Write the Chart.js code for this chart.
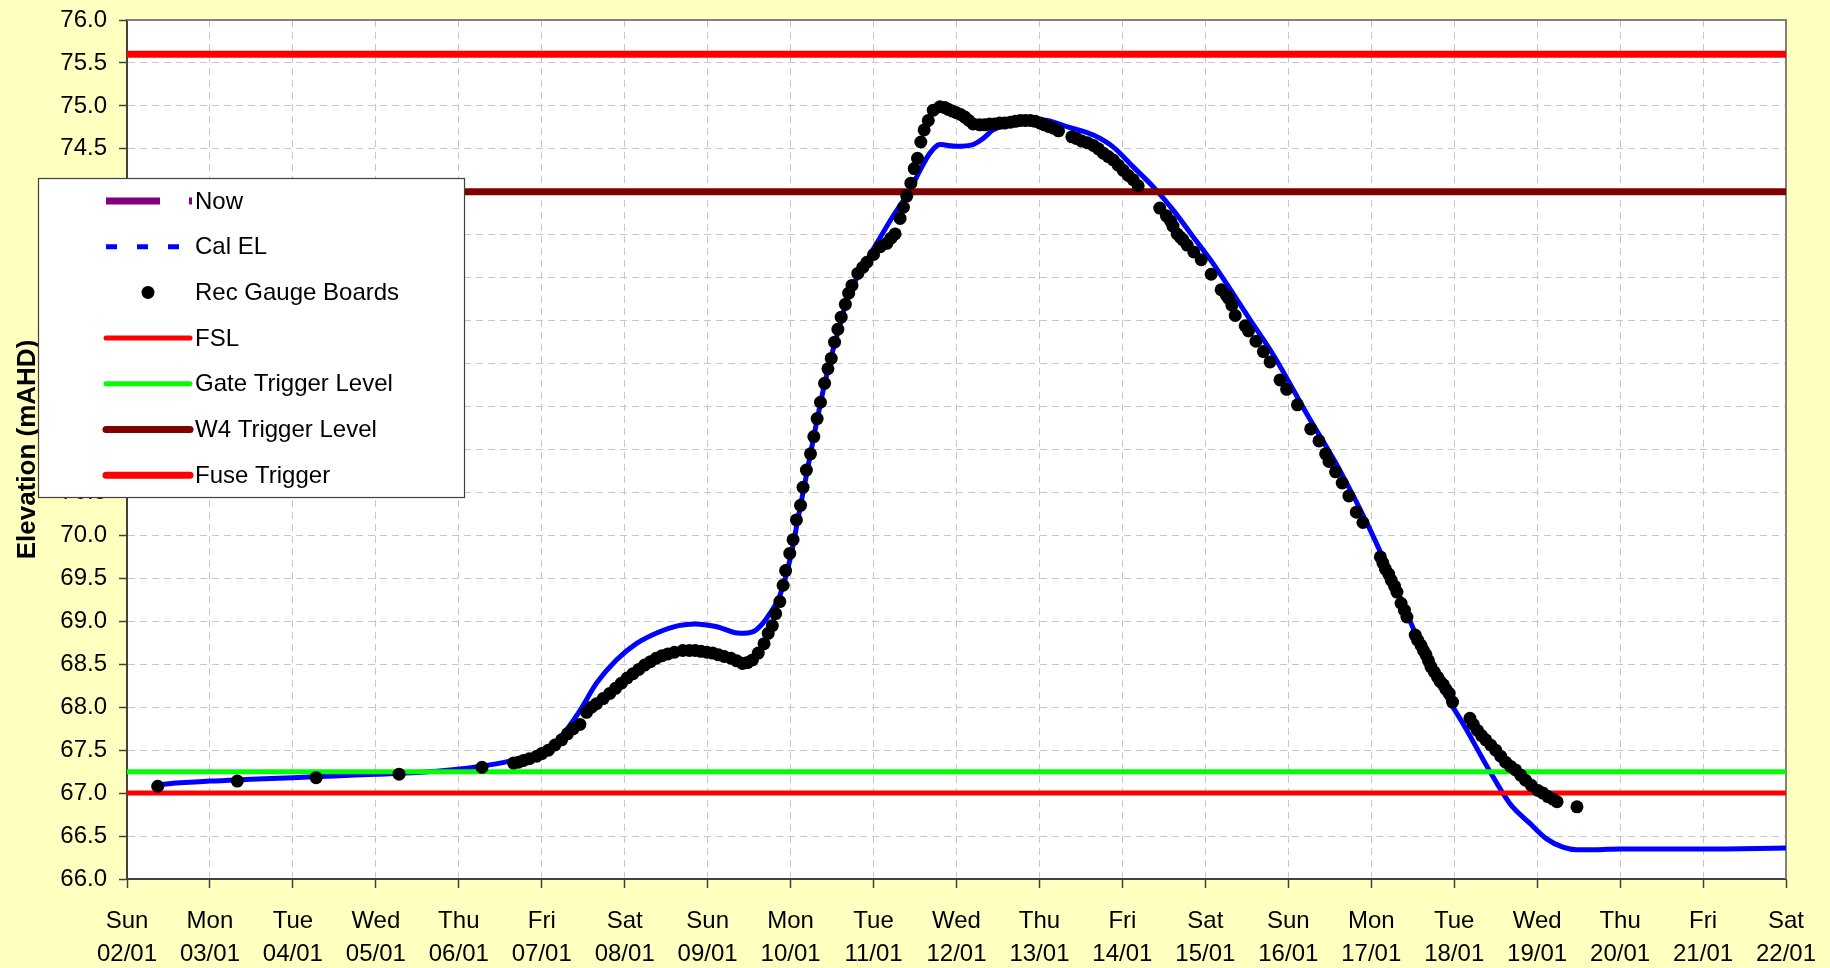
<!DOCTYPE html>
<html lang="en">
<head>
  <meta charset="UTF-8" />
  <title>Elevation (mAHD)</title>
  <script src="https://cdn.jsdelivr.net/npm/chart.js@4.4.1/dist/chart.umd.min.js"></script>
  <style>
    html, body { margin: 0; padding: 0; background: #FFFFC0; }
    canvas { display: block; }
  </style>
</head>
<body>
  <canvas id="elevChart" width="1830" height="968"></canvas>

  <script>
    // x axis: days after Sun 02/01
    const dayNames = ['Sun', 'Mon', 'Tue', 'Wed', 'Thu', 'Fri', 'Sat', 'Sun', 'Mon', 'Tue', 'Wed',
                      'Thu', 'Fri', 'Sat', 'Sun', 'Mon', 'Tue', 'Wed', 'Thu', 'Fri', 'Sat'];
    const dayDates = ['02/01', '03/01', '04/01', '05/01', '06/01', '07/01', '08/01', '09/01', '10/01', '11/01', '12/01',
                      '13/01', '14/01', '15/01', '16/01', '17/01', '18/01', '19/01', '20/01', '21/01', '22/01'];

    // Cal EL (modelled level)
    const calDays = [0.31, 0.5, 1.0, 1.5, 2.0, 2.5, 3.0, 3.5, 3.8, 4.25, 4.6, 5.0, 5.26, 5.46, 5.66, 5.9,
      6.14, 6.4, 6.65, 6.85, 7.1, 7.39, 7.55, 7.65, 7.75, 7.87, 8.0, 8.1, 8.2, 8.3, 8.4, 8.5, 8.6, 8.68,
      8.8, 8.99, 9.23, 9.44, 9.56, 9.68, 9.8, 10.0, 10.2, 10.32, 10.44, 10.61, 10.85, 11.09, 11.33, 11.65,
      11.89, 12.13, 12.37, 12.61, 12.85, 13.09, 13.33, 13.54, 13.82, 14.22, 14.62, 14.97, 15.26, 15.55,
      15.84, 16.13, 16.42, 16.67, 16.91, 17.11, 17.31, 17.48, 17.7, 18.0, 19.0, 20.0];
    const calLevels = [67.09, 67.11, 67.14, 67.16, 67.18, 67.20, 67.22, 67.24, 67.26, 67.31, 67.37, 67.48, 67.69, 67.96, 68.28, 68.55,
      68.74, 68.87, 68.95, 68.97, 68.94, 68.86, 68.88, 68.96, 69.09, 69.30, 69.75, 70.25, 70.75, 71.25, 71.72, 72.12, 72.47, 72.74,
      73.00, 73.32, 73.71, 74.02, 74.25, 74.45, 74.55, 74.53, 74.55, 74.62, 74.72, 74.78, 74.85, 74.83, 74.76, 74.66,
      74.52, 74.29, 74.06, 73.79, 73.48, 73.17, 72.82, 72.51, 72.10, 71.42, 70.76, 70.10, 69.48, 68.82,
      68.24, 67.77, 67.27, 66.88, 66.65, 66.47, 66.37, 66.34, 66.34, 66.35, 66.35, 66.36];

    // Rec Gauge Boards (recorded readings)
    const gaugeDays = [0.37, 1.33, 2.28, 3.28, 4.28,
      4.66, 4.72, 4.78, 4.85, 4.94, 5.0, 5.08, 5.16, 5.24, 5.31, 5.38, 5.46, 5.54, 5.6, 5.66, 5.74, 5.82, 5.89, 5.96,
      6.03, 6.1, 6.17, 6.24, 6.31, 6.38, 6.45, 6.52, 6.6, 6.7, 6.78, 6.85, 6.92, 6.99, 7.06, 7.13, 7.2, 7.28, 7.35,
      7.42, 7.48, 7.54, 7.61, 7.68, 7.73, 7.78, 7.82, 7.87, 7.91, 7.94, 7.99, 8.03, 8.07, 8.12, 8.15, 8.19, 8.24,
      8.28, 8.32, 8.36, 8.41, 8.45, 8.49, 8.53, 8.57, 8.61, 8.66, 8.7, 8.74, 8.81, 8.87, 8.92, 9.0, 9.08, 9.16,
      9.21, 9.26, 9.32, 9.36, 9.4, 9.45, 9.49, 9.53, 9.57, 9.61, 9.66, 9.72, 9.8, 9.86, 9.9, 9.95, 10.0, 10.05,
      10.1, 10.15, 10.2, 10.28, 10.34, 10.4, 10.46, 10.52, 10.58, 10.65, 10.71, 10.77, 10.83, 10.89, 10.95, 11.01,
      11.06, 11.11, 11.17, 11.23,
      11.39, 11.45, 11.51, 11.58, 11.65, 11.71, 11.77, 11.83, 11.89, 11.95, 12.01, 12.07, 12.13, 12.19,
      12.45, 12.53, 12.58, 12.61, 12.66, 12.7, 12.73, 12.78, 12.86, 12.95, 13.07, 13.19, 13.25, 13.28, 13.32,
      13.36, 13.48, 13.52, 13.61, 13.7, 13.78, 13.9, 13.98, 14.11, 14.27, 14.37, 14.45, 14.49, 14.57, 14.65,
      14.73, 14.82, 14.9,
      15.11, 15.14, 15.17, 15.21, 15.24, 15.28, 15.31, 15.36, 15.4, 15.43,
      15.53, 15.56, 15.6, 15.63, 15.66, 15.69, 15.72, 15.76, 15.8, 15.83, 15.87, 15.9, 15.94, 15.98,
      16.19, 16.23, 16.28, 16.33, 16.38, 16.44, 16.5, 16.56, 16.62, 16.68, 16.74, 16.8, 16.86, 16.93, 17.01,
      17.07, 17.13, 17.19, 17.24,
      17.48];
    const gaugeLevels = [67.08, 67.14, 67.18, 67.22, 67.30,
      67.35, 67.36, 67.38, 67.40, 67.43, 67.46, 67.50, 67.56, 67.62, 67.69, 67.75, 67.80, 67.94, 68.00, 68.04, 68.10, 68.16, 68.22, 68.28,
      68.34, 68.39, 68.44, 68.49, 68.53, 68.57, 68.60, 68.62, 68.64, 68.66, 68.66, 68.66, 68.65, 68.64, 68.63, 68.61, 68.59, 68.57, 68.54,
      68.51, 68.52, 68.55, 68.63, 68.74, 68.86, 68.95, 69.09, 69.23, 69.42, 69.59, 69.79, 69.95, 70.18, 70.35, 70.56, 70.76, 70.95,
      71.15, 71.36, 71.55, 71.77, 71.94, 72.06, 72.25, 72.40, 72.54, 72.69, 72.82, 72.91, 73.05, 73.12, 73.18, 73.27, 73.36, 73.40,
      73.46, 73.51, 73.69, 73.82, 73.95, 74.10, 74.27, 74.39, 74.58, 74.72, 74.83, 74.95, 74.99, 74.98, 74.96, 74.94, 74.92, 74.90,
      74.87, 74.83, 74.79, 74.78, 74.78, 74.79, 74.79, 74.80, 74.80, 74.81, 74.82, 74.83, 74.83, 74.83, 74.82, 74.80,
      74.78, 74.76, 74.74, 74.71,
      74.64, 74.62, 74.59, 74.57, 74.54, 74.50, 74.45, 74.41, 74.37, 74.31, 74.25, 74.19, 74.14, 74.07,
      73.81, 73.72, 73.66, 73.60, 73.51, 73.47, 73.44, 73.38, 73.30, 73.21, 73.04, 72.86, 72.80, 72.76, 72.68,
      72.56, 72.44, 72.38, 72.26, 72.14, 72.02, 71.81, 71.70, 71.52, 71.24, 71.10, 70.95, 70.86, 70.74, 70.61,
      70.46, 70.27, 70.15,
      69.75, 69.68, 69.61, 69.55, 69.48, 69.41, 69.34, 69.21, 69.13, 69.05,
      68.84, 68.78, 68.72, 68.66, 68.61, 68.54, 68.47, 68.41, 68.35, 68.30, 68.26, 68.21, 68.16, 68.06,
      67.87, 67.80, 67.73, 67.67, 67.62, 67.56, 67.50, 67.43, 67.36, 67.31, 67.27, 67.21, 67.15, 67.09, 67.03,
      67.00, 66.96, 66.93, 66.90,
      66.84];

    // fixed levels (mAHD)
    const fslLevel = 67.0;
    const gateLevel = 67.25;
    const w4Level = 74.0;
    const fuseLevel = 75.6;
    const xStart = 0, xEnd = 20;

    const FONT = "'Liberation Sans', Arial, sans-serif";

    function flatLine(level) {
      return [{ x: xStart, y: level }, { x: xEnd, y: level }];
    }

    // white plot area + grey frame on top/right
    const plotFrame = {
      id: 'plotFrame',
      beforeDraw(chart) {
        const { ctx, chartArea: a } = chart;
        ctx.save();
        ctx.fillStyle = '#ffffff';
        ctx.fillRect(a.left, a.top, a.right - a.left, a.bottom - a.top);
        ctx.restore();
      },
      beforeDatasetsDraw(chart) {
        const { ctx, chartArea: a } = chart;
        ctx.save();
        ctx.strokeStyle = '#808080';
        ctx.lineWidth = 2;
        ctx.beginPath();
        ctx.moveTo(a.left, a.top);
        ctx.lineTo(a.right, a.top);
        ctx.lineTo(a.right, a.bottom);
        ctx.stroke();
        ctx.restore();
      }
    };

    // Excel-like legend box inside the plot
    const boxLegend = {
      id: 'boxLegend',
      afterDraw(chart) {
        const ctx = chart.ctx;
        const box = { x: 38, y: 178, w: 426, h: 319 };
        ctx.save();
        ctx.fillStyle = '#ffffff';
        ctx.fillRect(box.x, box.y, box.w, box.h);
        ctx.strokeStyle = '#404040';
        ctx.lineWidth = 1.2;
        ctx.strokeRect(box.x + 0.5, box.y + 0.5, box.w, box.h);

        chart.data.datasets.forEach((ds, i) => {
          const y = 201 + i * 45.7;
          if (ds.showLine === false) {
            ctx.fillStyle = ds.pointBackgroundColor;
            ctx.beginPath();
            ctx.arc(148, y, ds.pointRadius, 0, Math.PI * 2);
            ctx.fill();
          } else {
            ctx.strokeStyle = ds.borderColor;
            ctx.lineWidth = ds.legendWidth || ds.borderWidth;
            ctx.lineCap = ds.legendDash ? 'butt' : 'round';
            ctx.setLineDash(ds.legendDash || []);
            ctx.beginPath();
            ctx.moveTo(106, y);
            ctx.lineTo(ds.legendDash ? 192 : 190, y);
            ctx.stroke();
            ctx.setLineDash([]);
          }
          ctx.fillStyle = '#000';
          ctx.font = '24px ' + FONT;
          ctx.textBaseline = 'middle';
          ctx.fillText(ds.label, 195, y + 1);
        });
        ctx.restore();
      }
    };

    new Chart(document.getElementById('elevChart'), {
      type: 'line',
      data: {
        datasets: [
          {
            label: 'Now',
            data: [],
            borderColor: '#800080',
            borderWidth: 7,
            legendDash: [54, 29],
            pointRadius: 0
          },
          {
            label: 'Cal EL',
            data: calDays.map((d, i) => ({ x: d, y: calLevels[i] })),
            borderColor: '#0000ff',
            borderWidth: 5,
            legendWidth: 5,
            legendDash: [11, 20],
            pointRadius: 0,
            cubicInterpolationMode: 'monotone',
            order: 3
          },
          {
            label: 'Rec Gauge Boards',
            data: gaugeDays.map((d, i) => ({ x: d, y: gaugeLevels[i] })),
            showLine: false,
            pointRadius: 6.5,
            pointBorderWidth: 0,
            pointBackgroundColor: '#000000',
            pointBorderColor: '#000000',
            order: 0
          },
          {
            label: 'FSL',
            data: flatLine(fslLevel),
            borderColor: '#ff0000',
            borderWidth: 5,
            pointRadius: 0,
            order: 2
          },
          {
            label: 'Gate Trigger Level',
            data: flatLine(gateLevel),
            borderColor: '#00ff00',
            borderWidth: 5,
            pointRadius: 0,
            order: 2
          },
          {
            label: 'W4 Trigger Level',
            data: flatLine(w4Level),
            borderColor: '#800000',
            borderWidth: 7,
            pointRadius: 0,
            order: 2
          },
          {
            label: 'Fuse Trigger',
            data: flatLine(fuseLevel),
            borderColor: '#ff0000',
            borderWidth: 7,
            pointRadius: 0,
            order: 2
          }
        ]
      },
      options: {
        responsive: false,
        animation: false,
        layout: { padding: { top: 20, right: 44, left: 0, bottom: 0 } },
        plugins: {
          legend: { display: false },
          tooltip: { enabled: false }
        },
        scales: {
          x: {
            type: 'linear',
            min: xStart,
            max: xEnd,
            afterFit: s => { s.height = 89; s.paddingLeft = 0; s.paddingRight = 0; },
            grid: { color: '#c8c8c8', lineWidth: 1, tickLength: 9, tickColor: '#404040', tickWidth: 1.5 },
            border: { color: '#404040', width: 2, dash: [7, 5] },
            ticks: {
              stepSize: 1,
              autoSkip: false,
              maxRotation: 0,
              padding: 17,
              color: '#000',
              font: { family: FONT, size: 24, lineHeight: 1.375 },
              callback: v => Number.isInteger(v) ? [dayNames[v], dayDates[v]] : ''
            }
          },
          y: {
            min: 66,
            max: 76,
            afterFit: s => { s.width = 127; s.paddingTop = 0; s.paddingBottom = 0; },
            grid: { color: '#c8c8c8', lineWidth: 1, tickLength: 8, tickColor: '#404040', tickWidth: 1.5 },
            border: { color: '#404040', width: 2, dash: [7, 5] },
            title: {
              display: true,
              text: 'Elevation (mAHD)',
              color: '#000',
              font: { family: FONT, size: 26, weight: 'bold' },
              padding: { top: 12, bottom: 0 }
            },
            ticks: {
              stepSize: 0.5,
              autoSkip: false,
              padding: 12,
              color: '#000',
              font: { family: FONT, size: 24 },
              callback: v => v.toFixed(1)
            }
          }
        }
      },
      plugins: [plotFrame, boxLegend]
    });
  </script>
</body>
</html>
